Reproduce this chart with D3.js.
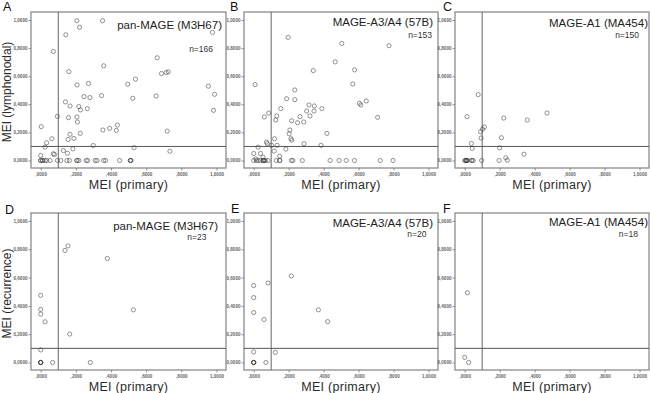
<!DOCTYPE html>
<html>
<head>
<meta charset="utf-8">
<script src="https://cdn.jsdelivr.net/npm/d3@7"></script>
<style>
    body { margin: 0; background: #fff; }
    text { font-family: "Liberation Sans", Arial, sans-serif; }
</style>
</head>
<body>
<div id="container"></div>
<script>
    // tick values and their SPSS style labels
    const tickValues = [0, 0.2, 0.4, 0.6, 0.8, 1.0];
    const xTickLabels = [",0000", ",2000", ",4000", ",6000", ",8000", "1,0000"];
    const yTickLabels = ["0,0000", "0,2000", "0,4000", "0,6000", "0,8000", "1,0000"];
    const cutoff = 0.1;

    const panelLetters = ["A", "B", "C", "D", "E", "F"];
    const panelTitles = ["pan-MAGE (M3H67)", "MAGE-A3/A4 (57B)", "MAGE-A1 (MA454)",
        "pan-MAGE (M3H67)", "MAGE-A3/A4 (57B)", "MAGE-A1 (MA454)"];
    const panelN = ["n=166", "n=153", "n=150", "n=23", "n=20", "n=18"];
    const yTitles = ["MEI (lymphonodal)", "MEI (recurrence)"];
    const xTitle = "MEI (primary)";

    // [MEI primary, MEI lymph node / recurrence]
    const pointsA = [
        [0.206, 0.995], [0.352, 0.995], [0.221, 0.948], [0.143, 0.895], [0.977, 0.912], [0.072, 0.776],
        [0.663, 0.731], [0.358, 0.674], [0.16, 0.633], [0.687, 0.619], [0.714, 0.626], [0.726, 0.631],
        [0.539, 0.579], [0.495, 0.543], [0.207, 0.538], [0.272, 0.548], [0.954, 0.529], [0.989, 0.471],
        [0.246, 0.455], [0.28, 0.448], [0.346, 0.462], [0.524, 0.443], [0.657, 0.459], [0.141, 0.417],
        [0.167, 0.388], [0.217, 0.384], [0.226, 0.36], [0.265, 0.369], [0.095, 0.314], [0.158, 0.305],
        [0.206, 0.31], [0.983, 0.357], [0.209, 0.274], [0.003, 0.241], [0.354, 0.217], [0.392, 0.229],
        [0.43, 0.214], [0.436, 0.252], [0.72, 0.209], [0.225, 0.193], [0.167, 0.186], [0.063, 0.155],
        [0.034, 0.126], [0.156, 0.15], [0.189, 0.157], [0.183, 0.083], [0.025, 0.095], [0.299, 0.107],
        [0.531, 0.091], [0.735, 0.066], [0.129, 0.071], [0.072, 0.048], [0.152, 0.052], [0, 0.036],
        [0.078, 0.043],
        [0, 0], [0.011, 0], [0.025, 0], [0.034, 0], [0.053, 0], [0.095, 0], [0.114, 0], [0.149, 0],
        [0.164, 0], [0.206, 0], [0.217, 0], [0.259, 0], [0.267, 0], [0.31, 0], [0.32, 0], [0.358, 0],
        [0.369, 0], [0.449, 0], [0.51, 0], [0.514, 0], [0, 0], [0.011, 0], [0.206, 0], [0.51, 0]
    ];
    const pointsB = [
        [0.197, 0.876], [0.504, 0.833], [0.774, 0.817], [0.466, 0.702], [0.341, 0.64], [0.577, 0.645],
        [0.008, 0.54], [0.567, 0.545], [0.235, 0.502], [0.188, 0.44], [0.235, 0.433], [0.155, 0.369],
        [0.061, 0.31], [0.086, 0.338], [0.132, 0.317], [0.126, 0.288], [0.316, 0.395], [0.347, 0.388],
        [0.345, 0.352], [0.303, 0.352], [0.265, 0.312], [0.322, 0.317], [0.251, 0.269], [0.286, 0.274],
        [0.217, 0.283], [0.39, 0.369], [0.605, 0.407], [0.644, 0.424], [0.613, 0.395], [0.709, 0.307],
        [0.207, 0.217], [0.203, 0.19], [0.213, 0.155], [0.218, 0.145], [0.419, 0.193], [0.119, 0.155],
        [0.073, 0.131], [0.078, 0.12], [0.102, 0.108], [0.025, 0.095], [0.134, 0.108], [0.288, 0.12],
        [0.385, 0.108], [0.184, 0.081], [0.117, 0.067], [0.149, 0.031], [0, 0.05], [0.039, 0.05],
        [0.053, 0.024], [0.012, 0.012],
        [0, 0], [0.015, 0], [0.025, 0], [0.038, 0], [0.054, 0], [0.059, 0], [0.067, 0], [0.082, 0],
        [0.13, 0], [0.149, 0], [0.216, 0], [0.224, 0], [0.278, 0], [0.437, 0], [0.489, 0], [0.529, 0],
        [0.577, 0], [0.724, 0], [0.797, 0], [0.054, 0], [0.059, 0], [0.149, 0]
    ];
    const pointsC = [
        [0.077, 0.469], [0.013, 0.312], [0.223, 0.302], [0.358, 0.288], [0.471, 0.338], [0.113, 0.238],
        [0.102, 0.224], [0.091, 0.205], [0.094, 0.16], [0.21, 0.162], [0.038, 0.121], [0.043, 0.086],
        [0.2, 0.09], [0.339, 0.045], [0.235, 0.019], [0.244, 0.002],
        [0, 0], [0.006, 0], [0.011, 0], [0.017, 0], [0.04, 0], [0.049, 0], [0.097, 0], [0.197, 0],
        [0.006, 0], [0.011, 0], [0.04, 0]
    ];
    const pointsD = [
        [0.138, 0.792], [0.155, 0.824], [0.379, 0.735], [0.527, 0.372], [0, 0.475], [0, 0.375],
        [0, 0.342], [0.025, 0.288], [0.165, 0.201], [0, 0.089], [0.068, 0], [0.282, 0],
        [0, 0], [0, 0], [0, 0], [0, 0]
    ];
    const pointsE = [
        [0.215, 0.612], [0.082, 0.562], [0, 0.544], [0, 0.459], [0, 0.353], [0.059, 0.304],
        [0.37, 0.372], [0.423, 0.289], [0, 0.075], [0.124, 0.071], [0.07, 0],
        [0, 0], [0, 0], [0, 0], [0, 0]
    ];
    const pointsF = [
        [0.015, 0.493], [0, 0.036], [0.023, 0]
    ];
    const allPoints = [pointsA, pointsB, pointsC, pointsD, pointsE, pointsF];

    // layout of the six frames
    const colLeft = [31, 244, 455];
    const colRight = [226, 438, 649];
    const rowTop = [12, 213];
    const rowBottom = [168, 370];
    const titleEnd = [222, 433, 648, 218, 433, 648];
    const titleBase = [28.5, 26, 27, 229.5, 226.5, 226];
    const nEnd = [213, 432, 639, 206.5, 426.5, 638];
    const nBase = [51.5, 37.5, 37.5, 240, 237, 237];
    const letterX = [3, 230, 443, 5, 231, 443];
    const letterBase = [10.5, 10.5, 10.5, 213.5, 213, 213];

    const svg = d3.select("#container").append("svg")
        .attr("width", 650)
        .attr("height", 393)
        .style("display", "block");

    const frameColor = "#8c8c8c";
    const textColor = "#2b2b2b";

    allPoints.forEach((pts, i) => {
        const col = i % 3, row = Math.floor(i / 3);
        const left = colLeft[col], right = colRight[col];
        const top = rowTop[row], bottom = rowBottom[row];

        const x = d3.scaleLinear().domain([0, 1]).range([left + 9.7, right - 9.5]);
        const y = d3.scaleLinear().domain([0, 1]).range([bottom - 7.5, top + 8]);

        const g = svg.append("g");

        // frame
        g.append("rect")
            .attr("x", left).attr("y", top)
            .attr("width", right - left).attr("height", bottom - top)
            .attr("fill", "none")
            .attr("stroke", frameColor)
            .attr("stroke-width", 1.3);

        // axes with tiny tick labels
        const xAxis = g.append("g")
            .attr("transform", `translate(0,${bottom})`)
            .call(d3.axisBottom(x).tickValues(tickValues).tickSize(2.5).tickPadding(2)
                .tickFormat((d, k) => xTickLabels[k]));
        const yAxis = g.append("g")
            .attr("transform", `translate(${left},0)`)
            .call(d3.axisLeft(y).tickValues(tickValues).tickSize(2.5).tickPadding(1)
                .tickFormat((d, k) => yTickLabels[k]));
        [xAxis, yAxis].forEach(ax => {
            ax.select(".domain").remove();
            ax.selectAll("line").attr("stroke", "#777").attr("stroke-width", 0.8);
            ax.selectAll("text")
                .attr("fill", "#666")
                .style("font-size", "4.6px")
                .style("font-weight", "bold")
                .style("font-family", "'Liberation Sans', Arial, sans-serif");
        });

        // cut-off reference lines
        g.append("line")
            .attr("x1", x(cutoff)).attr("x2", x(cutoff))
            .attr("y1", top).attr("y2", bottom)
            .attr("stroke", "#666").attr("stroke-width", 1);
        g.append("line")
            .attr("x1", left).attr("x2", right)
            .attr("y1", y(cutoff)).attr("y2", y(cutoff))
            .attr("stroke", "#555").attr("stroke-width", 1);

        // points
        g.selectAll("circle")
            .data(pts)
            .join("circle")
            .attr("cx", d => x(d[0]))
            .attr("cy", d => y(d[1]))
            .attr("r", 2.1)
            .attr("fill", "none")
            .attr("stroke", "#3a3a3a")
            .attr("stroke-opacity", 0.6)
            .attr("stroke-width", 0.9);

        // titles
        g.append("text")
            .attr("x", titleEnd[i]).attr("y", titleBase[i])
            .attr("text-anchor", "end")
            .attr("fill", "#1e1e1e")
            .style("font-size", "11.5px")
            .text(panelTitles[i]);
        g.append("text")
            .attr("x", nEnd[i]).attr("y", nBase[i])
            .attr("text-anchor", "end")
            .attr("fill", "#333")
            .style("font-size", "8.5px")
            .text(panelN[i]);
        g.append("text")
            .attr("x", letterX[i]).attr("y", letterBase[i])
            .attr("fill", "#111")
            .style("font-size", "12.5px")
            .text(panelLetters[i]);

        // axis titles
        g.append("text")
            .attr("x", (left + right) / 2).attr("y", bottom + 21)
            .attr("text-anchor", "middle")
            .attr("fill", textColor)
            .style("font-size", "12.5px")
            .style("letter-spacing", "0.3px")
            .text(xTitle);
        if (col === 0) {
            g.append("text")
                .attr("transform", `translate(10.5,${(top + bottom) / 2 + 2}) rotate(-90)`)
                .attr("text-anchor", "middle")
                .attr("fill", textColor)
                .style("font-size", "12px")
                .text(yTitles[row]);
        }
    });
</script>
</body>
</html>
